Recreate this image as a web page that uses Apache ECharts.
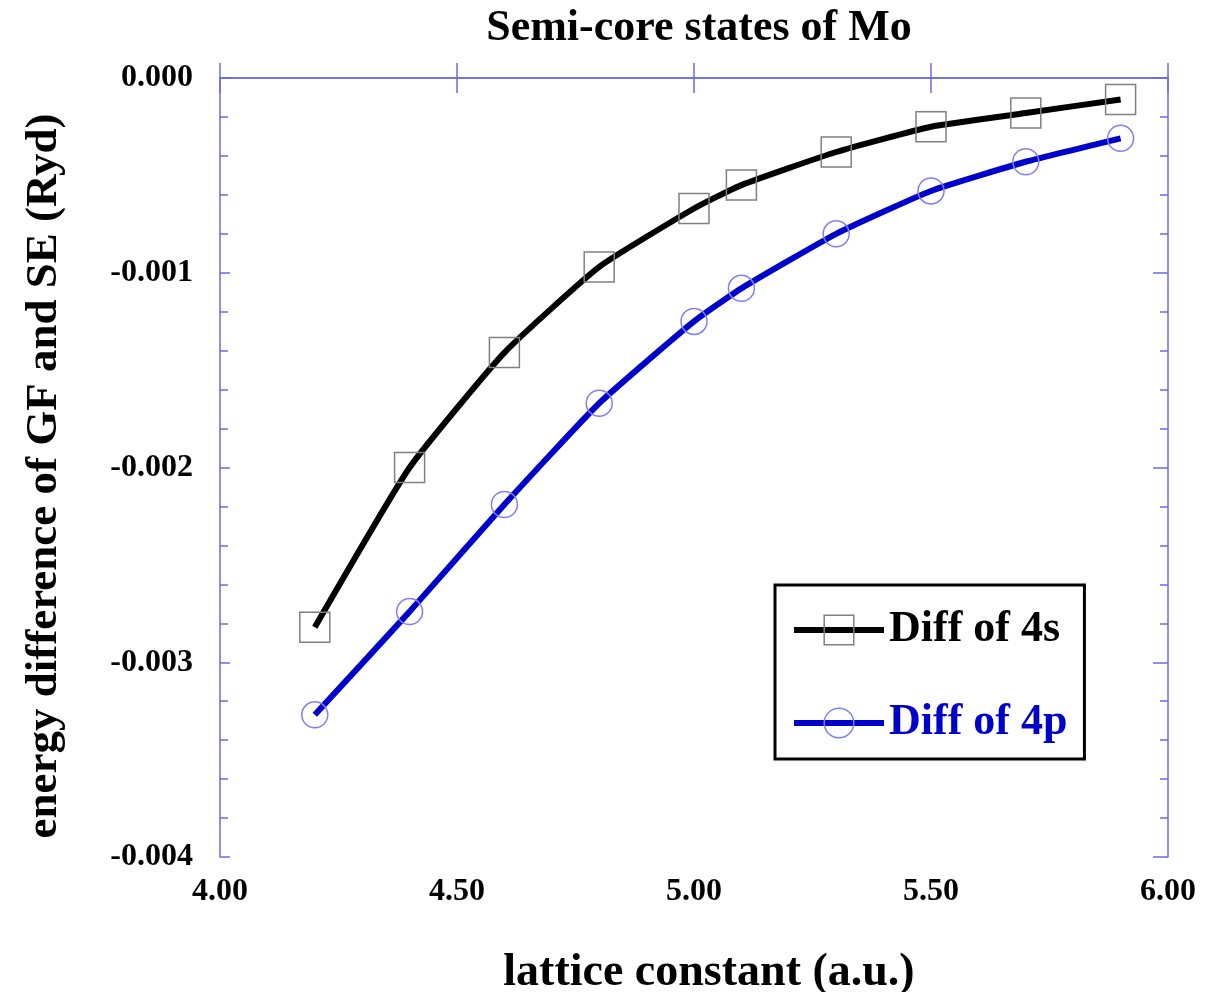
<!DOCTYPE html>
<html>
<head>
<meta charset="utf-8">
<title>Semi-core states of Mo</title>
<script src="https://cdn.jsdelivr.net/npm/echarts@6/dist/echarts.min.js"></script>
<style>
  html, body { margin: 0; padding: 0; background: #fff; }
  #chart { width: 1228px; height: 992px; }
</style>
</head>
<body>
<div id="chart"></div>
<script>
// lattice constant (a.u.)
const latt = [4.2, 4.4, 4.6, 4.8, 5.0, 5.1, 5.3, 5.5, 5.7, 5.9]
// energy difference (Ryd)
const diff4s = [-0.00282, -0.00200, -0.00141, -0.00097, -0.00067, -0.00055, -0.00038, -0.00025, -0.00018, -0.00011]
const diff4p = [-0.00327, -0.00274, -0.00219, -0.00167, -0.00125, -0.00108, -0.00080, -0.00058, -0.00043, -0.00031]
const xTicks = [4.0, 4.5, 5.0, 5.5, 6.0]
const yTicks = [0, -0.001, -0.002, -0.003, -0.004]

const fontFamily = '"Liberation Serif", "Times New Roman", serif'
const axisColor = '#6b6be6'

const baseX = {
  type: 'value',
  min: xTicks[0],
  max: xTicks[xTicks.length - 1],
  interval: 0.5,
  splitLine: { show: false },
  axisLine: { show: true, lineStyle: { color: axisColor, width: 1.5 } },
  axisTick: { show: true, inside: true, length: 15, lineStyle: { color: axisColor, width: 1.5 } }
}

const baseY = {
  type: 'value',
  min: yTicks[yTicks.length - 1],
  max: yTicks[0],
  interval: 0.001,
  splitLine: { show: false },
  axisLine: { show: true, lineStyle: { color: axisColor, width: 1.5 } },
  minorTick: { show: true, splitNumber: 5, length: 8, lineStyle: { color: axisColor, width: 1.5 } }
}

const option = {
  animation: false,
  backgroundColor: '#fff',
  textStyle: { fontFamily: fontFamily },
  title: {
    text: 'Semi-core states of Mo',
    left: 694,
    textAlign: 'center',
    top: 2,
    textStyle: { fontFamily: fontFamily, fontWeight: 'bold', fontSize: 44, color: '#000' }
  },
  legend: {
    orient: 'vertical',
    left: 775,
    top: 585,
    padding: [23, 17, 14, 16],
    itemGap: 49,
    itemWidth: 90,
    itemHeight: 37,
    borderColor: '#000',
    borderWidth: 3,
    backgroundColor: '#fff',
    lineStyle: { width: 6 },
    itemStyle: { borderWidth: 1.5 },
    textStyle: { fontFamily: fontFamily, fontWeight: 'bold', fontSize: 44 },
    data: [
      { name: 'Diff of 4s', textStyle: { color: '#000' } },
      { name: 'Diff of 4p', textStyle: { color: '#0000cc' } }
    ]
  },
  grid: { left: 220, top: 78, right: 60, bottom: 135, outerBoundsMode: 'none' },
  graphic: [
    {
      type: 'text',
      x: 44,
      y: 476,
      rotation: Math.PI / 2,
      style: {
        text: 'energy difference of GF and SE (Ryd)',
        font: 'bold 45px ' + fontFamily,
        fill: '#000',
        align: 'center',
        verticalAlign: 'middle'
      }
    }
  ],
  xAxis: [
    Object.assign({}, baseX, {
      position: 'bottom',
      name: 'lattice constant (a.u.)',
      nameLocation: 'middle',
      nameGap: 93,
      nameTextStyle: { fontFamily: fontFamily, fontWeight: 'bold', fontSize: 46, color: '#000', padding: [0, 0, 0, 30] },
      axisLabel: {
        margin: 19,
        fontFamily: fontFamily,
        fontWeight: 'bold',
        fontSize: 32,
        color: '#000',
        formatter: (v) => v.toFixed(2)
      }
    }),
    Object.assign({}, baseX, {
      position: 'top',
      axisLabel: { show: false }
    })
  ],
  yAxis: [
    Object.assign({}, baseY, {
      position: 'left',
      axisTick: { show: true, inside: true, length: 10, lineStyle: { color: axisColor, width: 1.5 } },
      axisLabel: {
        margin: 27,
        fontFamily: fontFamily,
        fontWeight: 'bold',
        fontSize: 32,
        color: '#000',
        formatter: (v) => v.toFixed(3)
      }
    }),
    Object.assign({}, baseY, {
      position: 'right',
      axisTick: { show: true, inside: true, length: 15, lineStyle: { color: axisColor, width: 1.5 } },
      axisLabel: { show: false }
    })
  ],
  series: [
    {
      name: 'Diff of 4s',
      type: 'line',
      smooth: 0.15,
      xAxisIndex: 0,
      yAxisIndex: 0,
      data: latt.map((x, i) => [x, diff4s[i]]),
      lineStyle: { color: '#000', width: 6 },
      symbol: 'rect',
      symbolSize: 30,
      itemStyle: { color: 'rgba(255,255,255,0)', borderColor: '#808080', borderWidth: 1.5 },
      z: 3
    },
    {
      name: 'Diff of 4p',
      type: 'line',
      smooth: 0.15,
      xAxisIndex: 0,
      yAxisIndex: 0,
      data: latt.map((x, i) => [x, diff4p[i]]),
      lineStyle: { color: '#0000cc', width: 6 },
      symbol: 'circle',
      symbolSize: 26,
      itemStyle: { color: 'rgba(255,255,255,0)', borderColor: '#8080f0', borderWidth: 1.5 },
      z: 3
    }
  ]
}

const chart = echarts.init(document.getElementById('chart'))
chart.setOption(option)
</script>
</body>
</html>
